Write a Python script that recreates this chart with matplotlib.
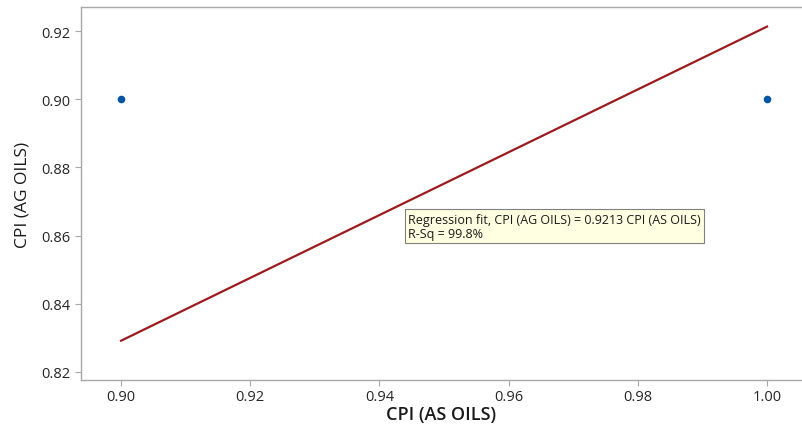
import numpy as np
import matplotlib
matplotlib.use("Agg")
import matplotlib.pyplot as plt

plt.rcParams['font.family'] = ['Open Sans', 'DejaVu Sans']

# Observed CPI values
cpi_as = [0.90, 1.00]
cpi_ag = [0.90, 0.90]

# Regression through the origin
slope = 0.9213
r_sq = 99.8
fit_x = [0.90, 1.00]

x_ticks = [0.90, 0.92, 0.94, 0.96, 0.98, 1.00]
y_ticks = [0.82, 0.84, 0.86, 0.88, 0.90, 0.92]

fig = plt.figure(figsize=(8.03, 4.27), dpi=100)
ax = fig.add_axes([81 / 803, 1 - 381 / 427, 722 / 803, 373 / 427])

ax.plot(fit_x, [slope * v for v in fit_x], color='#9B1B1F', lw=1.6, zorder=2)
ax.scatter(cpi_as, cpi_ag, s=30, color='#0054A6', zorder=3, linewidths=0)

ax.set_xlim(0.8938, 1.00557)
ax.set_ylim(0.81765, 0.92704)
ax.set_xticks(x_ticks)
ax.set_yticks(y_ticks)
ax.set_xticklabels([f"{v:.2f}" for v in x_ticks])
ax.set_yticklabels([f"{v:.2f}" for v in y_ticks])

for s in ax.spines.values():
    s.set_color('#A8A8A8')
    s.set_linewidth(1.0)
ax.tick_params(colors='#A8A8A8', labelcolor='#262626', labelsize=10.5, length=4, width=0.8)
ax.tick_params(axis='x', pad=2.5)
for lbl in ax.get_xticklabels() + ax.get_yticklabels():
    lbl.set_fontweight('medium')

ax.set_xlabel("CPI (AS OILS)", fontsize=13, fontweight='semibold', color='#1A1A1A')
ax.xaxis.set_label_coords(0.4986, -0.067)
ax.set_ylabel("CPI (AG OILS)", fontsize=12.5, color='#1A1A1A', labelpad=8)

ax.text(0.453, 0.449,
        f"Regression fit, CPI (AG OILS) = {slope:.4f} CPI (AS OILS)\nR-Sq = {r_sq:.1f}%",
        transform=ax.transAxes, fontsize=9, color='#1A1A1A', va='top', ha='left',
        linespacing=1.1,
        bbox=dict(boxstyle='square,pad=0.25', facecolor='#FFFFE1', edgecolor='#808080', linewidth=0.8))

fig.savefig("out.png", dpi=100)
